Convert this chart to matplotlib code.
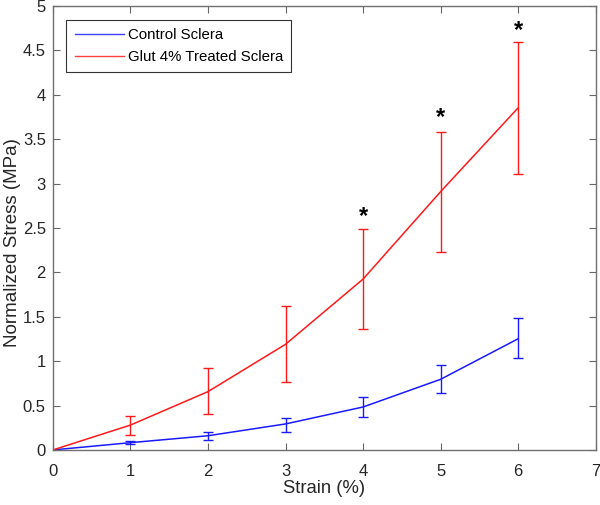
import matplotlib
matplotlib.use("Agg")
import matplotlib.pyplot as plt
from matplotlib.lines import Line2D

strain = [0, 1, 2, 3, 4, 5, 6]
control_mean = [0, 0.082, 0.16, 0.293, 0.484, 0.796, 1.253]
control_upper = [0, 0.100, 0.206, 0.364, 0.597, 0.957, 1.483]
control_lower = [0, 0.062, 0.113, 0.206, 0.375, 0.638, 1.032]
glut_mean = [0, 0.28, 0.657, 1.19, 1.925, 2.91, 3.855]
glut_upper = [0, 0.386, 0.92, 1.62, 2.485, 3.58, 4.60]
glut_lower = [0, 0.17, 0.40, 0.77, 1.36, 2.23, 3.11]
star_x = [4, 5, 6]
star_y = [2.63, 3.74, 4.72]
xticks = [0, 1, 2, 3, 4, 5, 6, 7]
yticks = [0, 0.5, 1, 1.5, 2, 2.5, 3, 3.5, 4, 4.5, 5]
ytick_labels = ["0", "0.5", "1", "1.5", "2", "2.5", "3", "3.5", "4", "4.5", "5"]
series_labels = ['Control Sclera', 'Glut 4% Treated Sclera']

plt.rcParams['font.family'] = ['Liberation Sans', 'DejaVu Sans']

fig = plt.figure(figsize=(6, 5.05), dpi=100)
ax = fig.add_axes([0.088, 0.109, 0.905, 0.879])

def err(mean, up, lo):
    return [[m - l for m, l in zip(mean, lo)], [u - m for m, u in zip(mean, up)]]

ax.errorbar(strain, control_mean, yerr=err(control_mean, control_upper, control_lower),
            color='#1a1aff', lw=1.1, capsize=3.5, elinewidth=1.0, capthick=1.0)
ax.errorbar(strain, glut_mean, yerr=err(glut_mean, glut_upper, glut_lower),
            color='#ff1a1a', lw=1.1, capsize=3.5, elinewidth=1.0, capthick=1.0)

for sx, sy in zip(star_x, star_y):
    ax.text(sx, sy, '*', ha='center', va='center', fontsize=17, fontweight='bold', color='black')

ax.set_xlim(0, 7)
ax.set_ylim(0, 5)
ax.set_xticks(xticks)
ax.set_yticks(yticks)
ax.set_yticklabels(ytick_labels)
ax.tick_params(direction='in', top=True, right=True, length=5, width=0.8,
               color='#666666', labelcolor='#262626', labelsize=12)
ax.tick_params(axis='x', pad=10)
ax.tick_params(axis='y', pad=5)
for s in ax.spines.values():
    s.set_color('#707070')
    s.set_linewidth(1.0)
ax.set_xlabel('Strain (%)', fontsize=13.3, color='#262626', labelpad=1)
ax.set_ylabel('Normalized Stress (MPa)', fontsize=13.5, color='#262626')
ax.yaxis.set_label_coords(-0.058, 0.468)

handles = [Line2D([], [], color='#4040ff', lw=1.0), Line2D([], [], color='#ff4040', lw=1.0)]
leg = ax.legend(handles, series_labels, loc='upper left',
                fontsize=10.8, frameon=True, fancybox=False, edgecolor='#333333',
                handlelength=3.3, handletextpad=0.25, borderaxespad=0.9, framealpha=1,
                borderpad=0.55, labelspacing=0.55)
leg.get_frame().set_linewidth(0.8)

fig.savefig('out.png', dpi=100)
